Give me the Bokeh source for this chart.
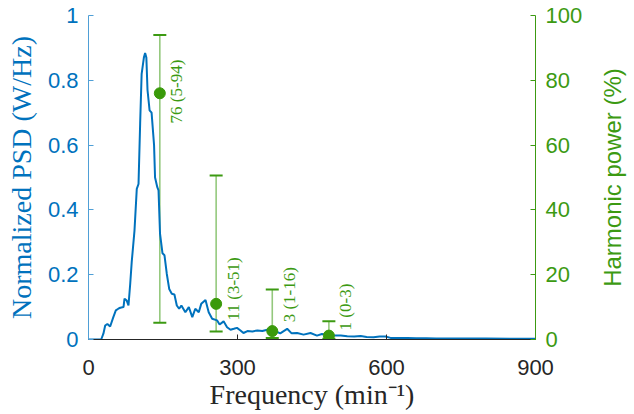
import math
from bokeh.plotting import figure
from bokeh.layouts import row
from bokeh.models import Range1d, LinearAxis, FixedTicker, ColumnDataSource, Whisker, TeeHead
from bokeh.embed import file_html
from bokeh.resources import INLINE
from bokeh.core.properties import value

# ---- data ----
freq = [0, 10, 20, 25.5, 30, 33.6, 38, 43.6, 50, 55, 60, 64, 70.5, 72.5, 77, 80.5, 84, 87, 92.6, 97.2,
        100.7, 104, 107, 111.5, 114, 116.5, 118.8, 123, 127, 132, 134, 138.5, 141, 144, 149, 153, 157.6,
        162.5, 167.7, 173, 177.8, 182.5, 187, 195, 202, 209, 215, 222, 227, 235.6, 242, 249, 259, 264,
        272, 279, 286, 292.6, 299, 306, 312, 320, 330, 340, 350, 360, 373, 386, 400, 409, 420, 433, 447,
        460, 470, 482, 494, 508, 521, 535, 548, 560, 574, 586, 598, 608, 625, 642, 660, 680, 700, 750,
        800, 850, 900]
psd = [0, 0, 0, 0, 0.018, 0.043, 0.048, 0.04, 0.069, 0.09, 0.095, 0.098, 0.10, 0.126, 0.12, 0.105, 0.172,
       0.239, 0.336, 0.465, 0.48, 0.667, 0.82, 0.87, 0.884, 0.87, 0.77, 0.707, 0.70, 0.60, 0.50, 0.47, 0.46,
       0.327, 0.266, 0.26, 0.203, 0.156, 0.141, 0.139, 0.105, 0.095, 0.105, 0.084, 0.10, 0.069, 0.095,
       0.084, 0.11, 0.122, 0.084, 0.064, 0.059, 0.046, 0.056, 0.038, 0.03, 0.033, 0.036, 0.028, 0.02,
       0.026, 0.025, 0.028, 0.026, 0.03, 0.028, 0.019, 0.033, 0.019, 0.02, 0.015, 0.02, 0.012, 0.017,
       0.013, 0.012, 0.012, 0.01, 0.009, 0.011, 0.008, 0.007, 0.009, 0.009, 0.005, 0.005, 0.005, 0.004,
       0.004, 0.003, 0.003, 0.003, 0.002, 0.002]

harm_freq = [143.6, 257, 370, 484]
harm_mean = [76, 11, 2.6, 1.2]
harm_lo = [5.2, 2.5, 0.5, 0.2]
harm_hi = [94, 50.6, 15.4, 5.6]
harm_labels = ["76 (5-94)", "11 (3-51)", "3 (1-16)", "1 (0-3)"]
label_start = [66.7, 5.9, 5.3, 2.8]

x_ticks = [0, 300, 600, 900]
y_ticks = [0, 0.2, 0.4, 0.6, 0.8, 1]
y_tick_labels = ["0", "0.2", "0.4", "0.6", "0.8", "1"]
hp_ticks = [0, 20, 40, 60, 80, 100]
right_title = "Harmonic power (%)"

BLUE = "#0072BD"
GREEN = "#3c9a12"
SANS = "Liberation Sans"
SERIF = "Liberation Serif"

p = figure(frame_width=447, frame_height=324,
           x_range=Range1d(0, 900), y_range=Range1d(0, 1),
           output_backend="svg", toolbar_location=None,
           min_border_left=88, min_border_right=55, min_border_top=15, min_border_bottom=74)
p.extra_y_ranges = {"hp": Range1d(0, 100)}
p.outline_line_color = None
p.xgrid.visible = False
p.ygrid.visible = False
p.background_fill_color = "white"
p.border_fill_color = "white"

# x axis
xa = p.xaxis[0]
xa.ticker = FixedTicker(ticks=x_ticks)
xa.axis_line_color = "#262626"
xa.major_tick_line_color = "#262626"
xa.major_tick_in = 5
xa.major_tick_out = 0
xa.minor_tick_line_color = None
xa.major_label_text_font = SANS
xa.major_label_text_font_size = "22px"
xa.major_label_text_color = "#262626"
xa.major_label_standoff = 20
xa.axis_label = "Frequency (min\u207b\u00b9)"
xa.axis_label_text_font = SERIF
xa.axis_label_text_font_size = "28px"
xa.axis_label_text_font_style = "normal"
xa.axis_label_text_color = "#262626"
xa.axis_label_standoff = 1

# left axis
ya = p.yaxis[0]
ya.ticker = FixedTicker(ticks=y_ticks)
ya.major_label_overrides = {t: s for t, s in zip(y_ticks, y_tick_labels)}
ya.axis_line_color = "#4f9fd6"
ya.major_tick_line_color = "#4f9fd6"
ya.major_tick_in = 5
ya.major_tick_out = 0
ya.minor_tick_line_color = None
ya.major_label_text_font = SANS
ya.major_label_text_font_size = "22px"
ya.major_label_text_color = BLUE
ya.major_label_standoff = 10
ya.axis_label = "Normalized PSD (W/Hz)"
ya.axis_label_text_font = SERIF
ya.axis_label_text_font_size = "28px"
ya.axis_label_text_font_style = "normal"
ya.axis_label_text_color = BLUE
ya.axis_label_standoff = 8

# right axis
ra = LinearAxis(y_range_name="hp", ticker=FixedTicker(ticks=hp_ticks))
ra.axis_line_color = GREEN
ra.major_tick_line_color = GREEN
ra.major_tick_in = 5
ra.major_tick_out = 0
ra.minor_tick_line_color = None
ra.major_label_text_font = SANS
ra.major_label_text_font_size = "22px"
ra.major_label_text_color = GREEN
ra.major_label_standoff = 10
p.add_layout(ra, "right")

# PSD curve
p.line(freq, psd, line_color=BLUE, line_width=2)

# harmonic error bars
src = ColumnDataSource(dict(f=harm_freq, m=harm_mean, lo=harm_lo, hi=harm_hi,
                            lab=harm_labels, ls=label_start))
wh = Whisker(base="f", upper="hi", lower="lo", dimension="height", source=src, y_range_name="hp",
             line_color=GREEN, line_alpha=0.55, line_width=1.6,
             upper_head=TeeHead(size=13, line_color=GREEN, line_alpha=1.0, line_width=2),
             lower_head=TeeHead(size=13, line_color=GREEN, line_alpha=1.0, line_width=2))
p.add_layout(wh)
p.scatter("f", "m", source=src, y_range_name="hp", size=11, fill_color="#3a9a0a", line_color="#3a9a0a")
p.text("f", "ls", text="lab", source=src, y_range_name="hp", angle=math.pi / 2,
       text_align="left", text_baseline="middle", x_offset=17,
       text_font=value(SERIF), text_font_size="17px", text_color=GREEN)

# right-hand axis title (reads bottom to top, as in the reference)
p2 = figure(width=43, frame_height=324, x_range=Range1d(0, 1), y_range=Range1d(0, 100),
            output_backend="svg", toolbar_location=None, x_axis_location=None, y_axis_location=None,
            min_border_left=0, min_border_right=0, min_border_top=15, min_border_bottom=74)
p2.outline_line_color = None
p2.xgrid.visible = False
p2.ygrid.visible = False
p2.text(x=[0.5], y=[50], text=[right_title], angle=math.pi / 2, text_align="center",
        text_baseline="middle", text_font=value(SANS), text_font_size="24px", text_color=GREEN)

layout = row(p, p2)
open("out.html", "w").write(file_html(layout, INLINE))
